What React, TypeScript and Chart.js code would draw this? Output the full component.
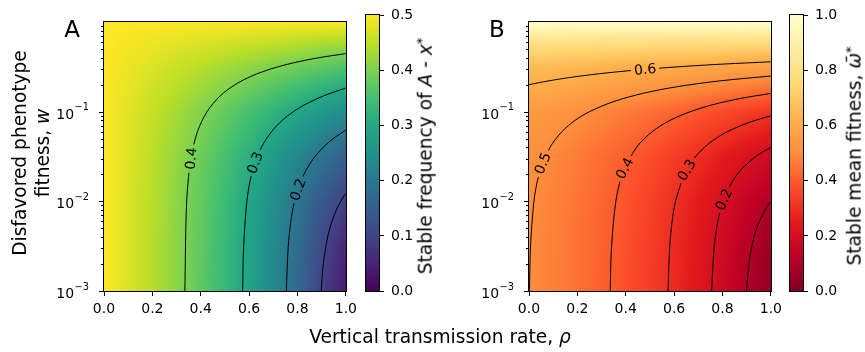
import React, { useEffect, useRef } from "react";
import { Chart, registerables } from "chart.js";

Chart.register(...registerables);

const FONT = "'DejaVu Sans', sans-serif";

// ---------- grid of read values (columns: rho, rows: log10 w) ----------
const RHO = [0, 0.1, 0.2, 0.3, 0.4, 0.5, 0.6, 0.7, 0.8, 0.9, 1.0];
const LOG_W = [-3, -2.5, -2, -1.5, -1, -0.5, -0.25, 0];

// Panel A: stable frequency of A, x*
const FREQ_A = [
  [0.5, 0.4737, 0.4446, 0.4120, 0.3754, 0.3340, 0.2868, 0.2325, 0.1699, 0.0983, 0.0307],
  [0.5, 0.4739, 0.4449, 0.4126, 0.3763, 0.3354, 0.2890, 0.2362, 0.1764, 0.1111, 0.0532],
  [0.5, 0.4743, 0.4458, 0.4142, 0.3790, 0.3397, 0.2957, 0.2467, 0.1934, 0.1387, 0.0909],
  [0.5, 0.4755, 0.4486, 0.4192, 0.3869, 0.3517, 0.3135, 0.2727, 0.2304, 0.1888, 0.1510],
  [0.5, 0.4789, 0.4563, 0.4323, 0.4068, 0.3801, 0.3523, 0.3238, 0.2952, 0.2671, 0.2403],
  [0.5, 0.4868, 0.4734, 0.4596, 0.4456, 0.4314, 0.4171, 0.4027, 0.3883, 0.3741, 0.3599],
  [0.5, 0.4930, 0.4859, 0.4788, 0.4716, 0.4645, 0.4573, 0.4501, 0.4429, 0.4357, 0.4285],
  [0.5, 0.5, 0.5, 0.5, 0.5, 0.5, 0.5, 0.5, 0.5, 0.5, 0.5],
];

// Panel B: stable mean fitness
const FIT_B = [
  [0.5005, 0.4743, 0.4451, 0.4126, 0.3761, 0.3347, 0.2875, 0.2333, 0.1707, 0.0992, 0.0316],
  [0.5016, 0.4755, 0.4466, 0.4144, 0.3783, 0.3375, 0.2913, 0.2386, 0.1790, 0.1139, 0.0562],
  [0.5050, 0.4795, 0.4514, 0.4201, 0.3852, 0.3463, 0.3027, 0.2543, 0.2014, 0.1473, 0.1000],
  [0.5158, 0.4921, 0.4660, 0.4375, 0.4063, 0.3722, 0.3352, 0.2957, 0.2547, 0.2144, 0.1778],
  [0.5500, 0.5310, 0.5107, 0.4890, 0.4661, 0.4421, 0.4171, 0.3914, 0.3657, 0.3404, 0.3162],
  [0.6581, 0.6491, 0.6399, 0.6305, 0.6209, 0.6112, 0.6014, 0.5916, 0.5818, 0.5720, 0.5623],
  [0.7812, 0.7781, 0.7750, 0.7719, 0.7688, 0.7656, 0.7625, 0.7593, 0.7562, 0.7530, 0.7499],
  [1.0, 1.0, 1.0, 1.0, 1.0, 1.0, 1.0, 1.0, 1.0, 1.0, 1.0],
];

// ---------- contour lines (rho, w) ----------
const A_C40_W = [0.001, 0.01, 0.03, 0.06, 0.1, 0.15, 0.2, 0.25, 0.3, 0.35, 0.4, 0.4444];
const A_C40_RHO = [0.3342, 0.3418, 0.3591, 0.3865, 0.4259, 0.4804, 0.5417, 0.6111, 0.6905, 0.7821, 0.8889, 1.0];
const A_C30_W = [0.001, 0.003, 0.01, 0.02, 0.04, 0.06, 0.08, 0.1, 0.12, 0.15, 0.1837];
const A_C30_RHO = [0.5733, 0.5771, 0.5907, 0.6103, 0.6508, 0.6930, 0.7370, 0.7831, 0.8311, 0.9076, 1.0];
const A_C20_W = [0.001, 0.003, 0.006, 0.01, 0.02, 0.03, 0.04, 0.05, 0.0625];
const A_C20_RHO = [0.7538, 0.7613, 0.7726, 0.7879, 0.8265, 0.8660, 0.9063, 0.9474, 1.0];
const A_C10_W = [0.001, 0.002, 0.004, 0.006, 0.008, 0.01, 0.01235];
const A_C10_RHO = [0.8978, 0.9067, 0.9246, 0.9426, 0.9606, 0.9787, 1.0];

const B_C60_W = [0.2, 0.22, 0.24, 0.26, 0.28, 0.3, 0.32, 0.34, 0.36];
const B_C60_RHO = [0, 0.0789, 0.1667, 0.2647, 0.375, 0.5, 0.6429, 0.8077, 1.0];
const B_C50_W = [0.001, 0.003, 0.01, 0.02, 0.04, 0.06, 0.08, 0.1, 0.13, 0.16, 0.19, 0.22, 0.25];
const B_C50_RHO = [0.002, 0.006, 0.0204, 0.0417, 0.087, 0.1364, 0.1905, 0.25, 0.3514, 0.4706, 0.6129, 0.7857, 1.0];
const B_C40_W = [0.001, 0.003, 0.01, 0.02, 0.04, 0.06, 0.08, 0.1, 0.12, 0.14, 0.16];
const B_C40_RHO = [0.3358, 0.3409, 0.359, 0.386, 0.4444, 0.5098, 0.5833, 0.6667, 0.7619, 0.8718, 1.0];
const B_C30_W = [0.001, 0.003, 0.006, 0.01, 0.02, 0.03, 0.04, 0.05, 0.06, 0.075, 0.09];
const B_C30_RHO = [0.5748, 0.5815, 0.5918, 0.6059, 0.6429, 0.6825, 0.7253, 0.7714, 0.8214, 0.9048, 1.0];
const B_C20_W = [0.001, 0.003, 0.006, 0.01, 0.015, 0.02, 0.025, 0.03, 0.035, 0.04];
const B_C20_RHO = [0.755, 0.7652, 0.7809, 0.8026, 0.8311, 0.8611, 0.8929, 0.9265, 0.9621, 1.0];
const B_C10_W = [0.001, 0.002, 0.003, 0.004, 0.005, 0.006, 0.007, 0.0085, 0.01];
const B_C10_RHO = [0.899, 0.9093, 0.9198, 0.9306, 0.9415, 0.9527, 0.9642, 0.9818, 1.0];

// ---------- contour labels ----------
const A_LABEL_TEXT = ["0.4", "0.3", "0.2"];
const A_LABEL_CONTOUR = [0, 1, 2];
const A_LABEL_RHO = [0.3591, 0.6242, 0.8013];
const A_LABEL_W = [0.03, 0.027, 0.0135];

const B_LABEL_TEXT = ["0.6", "0.5", "0.4", "0.3", "0.2"];
const B_LABEL_CONTOUR = [0, 1, 2, 3, 4];
const B_LABEL_RHO = [0.48, 0.0562, 0.3955, 0.6517, 0.8054];
const B_LABEL_W = [0.297, 0.0266, 0.0234, 0.0223, 0.0105];

// ---------- ticks ----------
const X_TICKS = [0, 0.2, 0.4, 0.6, 0.8, 1.0];
const Y_MAJOR = [0.001, 0.01, 0.1];
const Y_TICK_BASE = "10";
const Y_TICK_EXP = ["\u22123", "\u22122", "\u22121"];
const CB_A_TICKS = [0, 0.1, 0.2, 0.3, 0.4, 0.5];
const CB_B_TICKS = [0, 0.2, 0.4, 0.6, 0.8, 1.0];

// ---------- colormaps ----------
const VIRIDIS = ["#440154", "#482475", "#414487", "#355f8d", "#2a788e", "#21918c", "#22a884", "#44bf70", "#7ad151", "#bddf26", "#fde725"];
const YLORRD_R = ["#800026", "#bd0026", "#e31a1c", "#fc4e2a", "#fd8d3c", "#feb24c", "#fed976", "#ffeda0", "#ffffcc"];

function hexToRgb(h: string) {
  return [parseInt(h.slice(1, 3), 16), parseInt(h.slice(3, 5), 16), parseInt(h.slice(5, 7), 16)];
}

function cmap(stops: number[][], t: number) {
  t = Math.max(0, Math.min(1, t));
  const n = stops.length - 1;
  const f = t * n;
  const i = Math.min(n - 1, Math.floor(f));
  const u = f - i;
  const a = stops[i], b = stops[i + 1];
  return [a[0] + (b[0] - a[0]) * u, a[1] + (b[1] - a[1]) * u, a[2] + (b[2] - a[2]) * u];
}

function sampleGrid(grid: number[][], r: number, lw: number) {
  let i = 0;
  while (i < RHO.length - 2 && r > RHO[i + 1]) i++;
  const tx = Math.max(0, Math.min(1, (r - RHO[i]) / (RHO[i + 1] - RHO[i])));
  let j = 0;
  while (j < LOG_W.length - 2 && lw > LOG_W[j + 1]) j++;
  const ty = Math.max(0, Math.min(1, (lw - LOG_W[j]) / (LOG_W[j + 1] - LOG_W[j])));
  const a = grid[j][i], b = grid[j][i + 1], c = grid[j + 1][i], d = grid[j + 1][i + 1];
  return (a * (1 - tx) + b * tx) * (1 - ty) + (c * (1 - tx) + d * tx) * ty;
}

type PanelCfg = {
  grid: number[][];
  vmax: number;
  colors: string[];
  contours: { rho: number[]; w: number[] }[];
  labels: { text: string[]; contour: number[]; rho: number[]; w: number[] };
  yAxisWidth: number;
};

function makePanel(canvas: HTMLCanvasElement, cfg: PanelCfg) {
  const stops = cfg.colors.map(hexToRgb);
  let heat: HTMLCanvasElement | null = null;

  const deco = {
    id: "deco",
    beforeDatasetsDraw(chart: any) {
      const { ctx, chartArea: ca, scales } = chart;
      const L = Math.round(ca.left), T = Math.round(ca.top);
      const W = Math.round(ca.right) - L, H = Math.round(ca.bottom) - T;
      const off = document.createElement("canvas");
      off.width = W;
      off.height = H;
      const octx = off.getContext("2d")!;
      const img = octx.createImageData(W, H);
      for (let j = 0; j < H; j++) {
        const wv = scales.y.getValueForPixel(T + j + 0.5);
        const lw = Math.log10(wv);
        for (let i = 0; i < W; i++) {
          const r = scales.x.getValueForPixel(L + i + 0.5);
          const v = sampleGrid(cfg.grid, r, lw);
          const c = cmap(stops, v / cfg.vmax);
          const k = (j * W + i) * 4;
          img.data[k] = c[0];
          img.data[k + 1] = c[1];
          img.data[k + 2] = c[2];
          img.data[k + 3] = 255;
        }
      }
      octx.putImageData(img, 0, 0);
      ctx.drawImage(off, L, T);
      heat = off;
    },
    afterDatasetsDraw(chart: any) {
      const { ctx, chartArea: ca, scales } = chart;
      const xs = scales.x, ys = scales.y;
      ctx.save();
      ctx.font = `14px ${FONT}`;
      ctx.fillStyle = "#000";
      ctx.textAlign = "center";
      ctx.textBaseline = "middle";
      const lb = cfg.labels;
      for (let n = 0; n < lb.text.length; n++) {
        const con = cfg.contours[lb.contour[n]];
        let k = 0;
        while (k < con.w.length - 2 && lb.w[n] > con.w[k + 1]) k++;
        const x1 = xs.getPixelForValue(con.rho[k]), y1 = ys.getPixelForValue(con.w[k]);
        const x2 = xs.getPixelForValue(con.rho[k + 1]), y2 = ys.getPixelForValue(con.w[k + 1]);
        const ang = Math.atan2(y2 - y1, x2 - x1);
        const px = xs.getPixelForValue(lb.rho[n]);
        const py = ys.getPixelForValue(lb.w[n]);
        const tw = ctx.measureText(lb.text[n]).width;
        ctx.save();
        ctx.translate(px, py);
        ctx.rotate(ang);
        ctx.beginPath();
        ctx.rect(-tw / 2 - 3, -9, tw + 6, 18);
        ctx.rotate(-ang);
        ctx.translate(-px, -py);
        ctx.clip();
        if (heat) ctx.drawImage(heat, Math.round(ca.left), Math.round(ca.top));
        ctx.translate(px, py);
        ctx.rotate(ang);
        ctx.fillText(lb.text[n], 0, 1);
        ctx.restore();
      }
      ctx.restore();
    },
    afterDraw(chart: any) {
      const { ctx, chartArea: ca, scales } = chart;
      ctx.save();
      ctx.strokeStyle = "#000";
      ctx.lineWidth = 1;
      const L = Math.round(ca.left), T = Math.round(ca.top);
      const R = Math.round(ca.right), B = Math.round(ca.bottom);
      // y tick marks (major and minor)
      for (const t of scales.y.ticks) {
        const v = t.value;
        const d = Math.round(v / Math.pow(10, Math.floor(Math.log10(v) + 1e-9)));
        const len = d === 1 ? 5 : 3;
        const py = Math.round(scales.y.getPixelForValue(v)) + 0.5;
        ctx.beginPath();
        ctx.moveTo(L - len, py);
        ctx.lineTo(L, py);
        ctx.stroke();
      }
      ctx.strokeRect(L - 0.5, T - 0.5, R - L + 1, B - T + 1);
      // y tick labels: 10 with superscript exponent
      ctx.fillStyle = "#000";
      ctx.textBaseline = "alphabetic";
      ctx.textAlign = "left";
      Y_MAJOR.forEach((m, idx) => {
        const py = scales.y.getPixelForValue(m);
        ctx.font = `9.8px ${FONT}`;
        const ew = ctx.measureText(Y_TICK_EXP[idx]).width;
        ctx.font = `14px ${FONT}`;
        const bw = ctx.measureText(Y_TICK_BASE).width;
        const right = L - 15;
        const bx = right - ew - bw - 0.5;
        ctx.fillText(Y_TICK_BASE, bx, py + 7);
        ctx.font = `9.8px ${FONT}`;
        ctx.fillText(Y_TICK_EXP[idx], bx + bw + 0.5, py - 1.5);
      });
      ctx.restore();
    },
  };

  return new Chart(canvas, {
    type: "line",
    data: {
      datasets: cfg.contours.map((c) => ({
        data: c.rho.map((r, i) => ({ x: r, y: c.w[i] })),
        borderColor: "#000",
        borderWidth: 1,
        pointRadius: 0,
        tension: 0.3,
        fill: false,
      })),
    },
    options: {
      animation: false,
      responsive: false,
      maintainAspectRatio: false,
      events: [],
      layout: { padding: { top: 15, right: 12, left: 0, bottom: 0 } },
      plugins: { legend: { display: false }, tooltip: { enabled: false } },
      scales: {
        x: {
          type: "linear",
          min: 0,
          max: 1,
          afterBuildTicks: (s: any) => {
            s.ticks = X_TICKS.map((v) => ({ value: v }));
          },
          ticks: {
            autoSkip: false,
            maxRotation: 0,
            color: "#000",
            font: { family: FONT, size: 14 },
            padding: 5,
            callback: (v: any) => Number(v).toFixed(1),
          },
          grid: { drawOnChartArea: false, drawTicks: true, tickLength: 5, color: "#000", lineWidth: 1 },
          border: { display: false },
          afterFit: (s: any) => {
            s.height = 61;
          },
        },
        y: {
          type: "logarithmic",
          min: 0.001,
          max: 0.99,
          afterBuildTicks: (s: any) => {
            const ts: any[] = [];
            for (const m of Y_MAJOR) {
              for (let d = 1; d <= 9; d++) {
                const v = d * m;
                if (v <= 0.99) ts.push({ value: v });
              }
            }
            s.ticks = ts;
          },
          ticks: {
            autoSkip: false,
            color: "#000",
            font: { family: FONT, size: 14 },
            padding: 14,
            callback: () => "",
          },
          grid: { display: false },
          border: { display: false },
          afterFit: (s: any) => {
            s.width = cfg.yAxisWidth;
          },
        },
      },
    } as any,
    plugins: [deco],
  });
}

function makeColorbar(canvas: HTMLCanvasElement, colors: string[], vmax: number, ticks: number[], padLeft: number, axisWidth: number) {
  const bar = {
    id: "bar",
    afterDraw(chart: any) {
      const { ctx, chartArea: ca } = chart;
      const L = Math.round(ca.left), T = Math.round(ca.top);
      const R = Math.round(ca.right), B = Math.round(ca.bottom);
      const g = ctx.createLinearGradient(0, B, 0, T);
      colors.forEach((c, i) => g.addColorStop(i / (colors.length - 1), c));
      ctx.save();
      ctx.fillStyle = g;
      ctx.fillRect(L, T, R - L, B - T);
      ctx.strokeStyle = "#000";
      ctx.lineWidth = 1;
      ctx.strokeRect(L - 0.5, T - 0.5, R - L + 1, B - T + 1);
      ctx.restore();
    },
  };
  return new Chart(canvas, {
    type: "line",
    data: { datasets: [] },
    options: {
      animation: false,
      responsive: false,
      maintainAspectRatio: false,
      events: [],
      layout: { padding: { top: 15, right: 0, left: padLeft, bottom: 61 } },
      plugins: { legend: { display: false }, tooltip: { enabled: false } },
      scales: {
        x: { type: "linear", display: false, min: 0, max: 1 },
        y: {
          type: "linear",
          position: "right",
          min: 0,
          max: vmax,
          afterBuildTicks: (s: any) => {
            s.ticks = ticks.map((v) => ({ value: v }));
          },
          ticks: {
            autoSkip: false,
            color: "#000",
            font: { family: FONT, size: 14 },
            padding: 7,
            callback: (v: any) => Number(v).toFixed(1),
          },
          grid: { drawOnChartArea: false, drawTicks: true, tickLength: 5, color: "#000", lineWidth: 1 },
          border: { display: false },
          afterFit: (s: any) => {
            s.width = axisWidth;
          },
        },
      },
    } as any,
    plugins: [bar],
  });
}

const Txt = (p: { x: number; y: number; rot?: number; size: number; lh?: string; children: any }) => (
  <div
    style={{
      position: "absolute",
      left: p.x,
      top: p.y,
      transform: `translate(-50%, -50%) rotate(${p.rot ?? 0}deg)`,
      fontSize: p.size,
      lineHeight: p.lh ?? "1",
      whiteSpace: "nowrap",
      textAlign: "center",
      color: "#000",
      fontFamily: FONT,
    }}
  >
    {p.children}
  </div>
);

const supStyle: React.CSSProperties = { fontSize: "70%", lineHeight: 0, verticalAlign: "0.5em", fontStyle: "normal" };

export default function App() {
  const aRef = useRef<HTMLCanvasElement>(null);
  const cbaRef = useRef<HTMLCanvasElement>(null);
  const bRef = useRef<HTMLCanvasElement>(null);
  const cbbRef = useRef<HTMLCanvasElement>(null);

  useEffect(() => {
    const charts = [
      makePanel(aRef.current!, {
        grid: FREQ_A,
        vmax: 0.5,
        colors: VIRIDIS,
        contours: [
          { rho: A_C40_RHO, w: A_C40_W },
          { rho: A_C30_RHO, w: A_C30_W },
          { rho: A_C20_RHO, w: A_C20_W },
          { rho: A_C10_RHO, w: A_C10_W },
        ],
        labels: { text: A_LABEL_TEXT, contour: A_LABEL_CONTOUR, rho: A_LABEL_RHO, w: A_LABEL_W },
        yAxisWidth: 104,
      }),
      makeColorbar(cbaRef.current!, VIRIDIS, 0.5, CB_A_TICKS, 6, 61),
      makePanel(bRef.current!, {
        grid: FIT_B,
        vmax: 1.0,
        colors: YLORRD_R,
        contours: [
          { rho: B_C60_RHO, w: B_C60_W },
          { rho: B_C50_RHO, w: B_C50_W },
          { rho: B_C40_RHO, w: B_C40_W },
          { rho: B_C30_RHO, w: B_C30_W },
          { rho: B_C20_RHO, w: B_C20_W },
          { rho: B_C10_RHO, w: B_C10_W },
        ],
        labels: { text: B_LABEL_TEXT, contour: B_LABEL_CONTOUR, rho: B_LABEL_RHO, w: B_LABEL_W },
        yAxisWidth: 89,
      }),
      makeColorbar(cbbRef.current!, YLORRD_R, 1.0, CB_B_TICKS, 5, 62),
    ];
    return () => charts.forEach((c) => c.destroy());
  }, []);

  const cv = (left: number, width: number): React.CSSProperties => ({
    position: "absolute",
    left,
    top: 0,
    width,
    height: 352,
  });

  return (
    <div style={{ position: "absolute", left: 0, top: 0, width: 865, height: 352, background: "#fff", overflow: "hidden" }}>
      <canvas ref={aRef} width={362} height={352} style={cv(0, 362)} />
      <canvas ref={cbaRef} width={80} height={352} style={cv(360, 80)} />
      <canvas ref={bRef} width={347} height={352} style={cv(440, 347)} />
      <canvas ref={cbbRef} width={80} height={352} style={cv(785, 80)} />

      <Txt x={72} y={28.5} size={23}>A</Txt>
      <Txt x={497} y={28.5} size={23}>B</Txt>

      <Txt x={31} y={153} rot={-90} size={18.6} lh="23px">
        Disfavored phenotype
        <br />
        fitness, <i>w</i>
      </Txt>

      <Txt x={426} y={156} rot={-90} size={18.6}>
        Stable frequency of <i>A</i> - <i>x</i>
        <sup style={supStyle}>*</sup>
      </Txt>

      <Txt x={855} y={156} rot={-90} size={18.6}>
        Stable mean fitness, <i>{"\u03C9\u0304"}</i>
        <sup style={supStyle}>*</sup>
      </Txt>

      <Txt x={440} y={337} size={18.6}>
        Vertical transmission rate, <i>{"\u03C1"}</i>
      </Txt>
    </div>
  );
}
